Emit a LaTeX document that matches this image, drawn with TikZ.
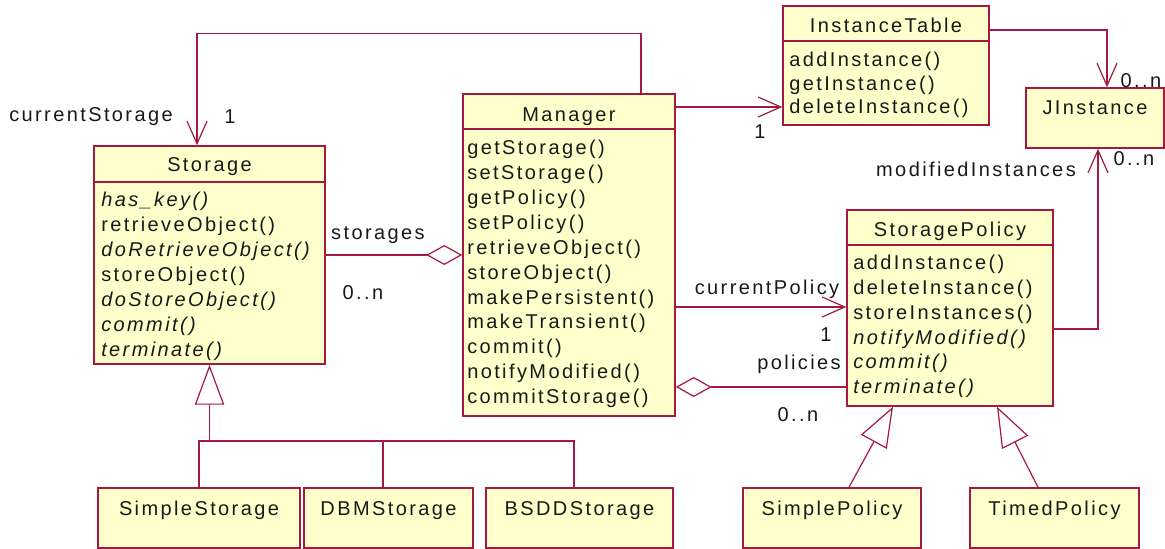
\documentclass[tikz,border=0pt]{standalone}
\usepackage{fontspec}
\setmainfont{Liberation Sans}[LetterSpace=12]
\usetikzlibrary{arrows.meta, fit}

\definecolor{umlred}{RGB}{165,25,65}
\definecolor{umlyellow}{RGB}{255,255,204}
\definecolor{umltext}{RGB}{25,25,25}

\tikzset{
  classbox/.style={draw=umlred, fill=umlyellow, line width=1.1pt, inner sep=0pt},
  classname/.style={inner sep=0pt, text height=12pt, text depth=2pt, text=umltext},
  method/.style={classname, anchor=west},
  lbl/.style={classname},
  conn/.style={draw=umlred, line width=0.9pt},
  nav/.style={conn, -{Straight Barb[length=17pt, width=15pt]}},
  aggr/.style={conn, -{Diamond[length=27pt, width=15pt, fill=white]}},
  gen/.style={conn, -{Triangle[length=30pt, width=22pt, fill=white]}},
}

\begin{document}
\begin{tikzpicture}[x=0.75pt, y=-0.75pt, every node/.style={font=\fontsize{15}{18}\selectfont}]
  \useasboundingbox (0,0) rectangle (1165,549);

  % class boxes
  \node[classbox, fit={(94,146) (325,364)}] (storage) {};
  \node[classbox, fit={(463,94) (675,416)}] (manager) {};
  \node[classbox, fit={(783,6) (989,125)}] (insttable) {};
  \node[classbox, fit={(1026,88) (1164,148)}] (jinstance) {};
  \node[classbox, fit={(847,210) (1053,406)}] (storpolicy) {};
  \node[classbox, fit={(98,488) (300,548)}] (simplestorage) {};
  \node[classbox, fit={(304,488) (473,548)}] (dbmstorage) {};
  \node[classbox, fit={(486,488) (673,548)}] (bsddstorage) {};
  \node[classbox, fit={(743,488) (921,548)}] (simplepolicy) {};
  \node[classbox, fit={(970,488) (1139,548)}] (timedpolicy) {};

  % header separators
  \draw[classbox] (storage.west |- 0,182) -- (storage.east |- 0,182);
  \draw[classbox] (manager.west |- 0,129) -- (manager.east |- 0,129);
  \draw[classbox] (insttable.west |- 0,41) -- (insttable.east |- 0,41);
  \draw[classbox] (storpolicy.west |- 0,245) -- (storpolicy.east |- 0,245);

  % class names
  \node[classname] (storage-name) at (storage.north |- 0,165) {Storage};
  \node[classname] (manager-name) at (manager.north |- 0,115) {Manager};
  \node[classname] (insttable-name) at (insttable.north |- 0,26) {InstanceTable};
  \node[classname] (jinstance-name) at (jinstance.north |- 0,108) {JInstance};
  \node[classname] (storpolicy-name) at (storpolicy.north |- 0,230) {StoragePolicy};
  \node[classname] (simplestorage-name) at (simplestorage.north |- 0,509) {SimpleStorage};
  \node[classname] (dbmstorage-name) at (dbmstorage.north |- 0,509) {DBMStorage};
  \node[classname] (bsddstorage-name) at (bsddstorage.north |- 0,509) {BSDDStorage};
  \node[classname] (simplepolicy-name) at (simplepolicy.north |- 0,509) {SimplePolicy};
  \node[classname] (timedpolicy-name) at (timedpolicy.north |- 0,509) {TimedPolicy};

  % methods
  \foreach \m [count=\i from 0] in {\textit{has\_key()}, retrieveObject(), \textit{doRetrieveObject()},
      storeObject(), \textit{doStoreObject()}, \textit{commit()}, \textit{terminate()}}
    \node[method] (storage-m\i) at (101,200+25*\i) {\m};
  \foreach \m [count=\i from 0] in {getStorage(), setStorage(), getPolicy(), setPolicy(),
      retrieveObject(), storeObject(), makePersistent(), makeTransient(), commit(),
      notifyModified(), commitStorage()}
    \node[method] (manager-m\i) at (467,148+24.9*\i) {\m};
  \foreach \m [count=\i from 0] in {addInstance(), getInstance(), deleteInstance()}
    \node[method] (insttable-m\i) at (789,60+23.5*\i) {\m};
  \foreach \m [count=\i from 0] in {addInstance(), deleteInstance(), storeInstances(),
      \textit{notifyModified()}, \textit{commit()}, \textit{terminate()}}
    \node[method] (storpolicy-m\i) at (853,263+24.8*\i) {\m};

  % associations
  \draw[nav] (manager.north -| 641,0) -- ++(0,-60) -| (storage.north -| 197,0);
  \draw[nav] (manager.east |- 0,107) -- (insttable.west |- 0,107);
  \draw[nav] (insttable.east |- 0,30) -| (jinstance.north -| 1107,0);
  \draw[nav] (storpolicy.east |- 0,329) -| (jinstance.south -| 1098,0);
  \draw[nav] (manager.east |- 0,307) -- (storpolicy.west |- 0,307);
  \draw[aggr] (storage.east |- 0,255) -- (manager.west |- 0,255);
  \draw[aggr] (storpolicy.west |- 0,387) -- (manager.east |- 0,387);

  % generalizations
  \draw[conn] (simplestorage.north) -- (simplestorage.north |- 0,441) -| (bsddstorage.north -| 574,0);
  \draw[conn] (dbmstorage.north -| 383,0) -- ++(0,-47);
  \draw[gen] (storage.south |- 0,441) -- (storage.south);
  \draw[gen] (simplepolicy.north -| 849,0) -- (storpolicy.south -| 893,0);
  \draw[gen] (timedpolicy.north -| 1038,0) -- (storpolicy.south -| 997,0);

  % role names and multiplicities
  \node[lbl] (lbl-curstorage) at (91,115) {currentStorage};
  \node[lbl] (lbl-curstorage-n) at (230,117) {1};
  \node[lbl] (lbl-table-n) at (760,132) {1};
  \node[lbl] (lbl-jinst-top) at (1141,81) {0..n};
  \node[lbl] (lbl-modified) at (976,170) {modifiedInstances};
  \node[lbl] (lbl-modified-n) at (1134,159) {0..n};
  \node[lbl] (lbl-storages) at (378,233) {storages};
  \node[lbl] (lbl-storages-n) at (363,293) {0..n};
  \node[lbl] (lbl-curpolicy) at (767,288) {currentPolicy};
  \node[lbl] (lbl-curpolicy-n) at (826,335) {1};
  \node[lbl] (lbl-policies) at (799,363) {policies};
  \node[lbl] (lbl-policies-n) at (798,415) {0..n};
\end{tikzpicture}
\end{document}
